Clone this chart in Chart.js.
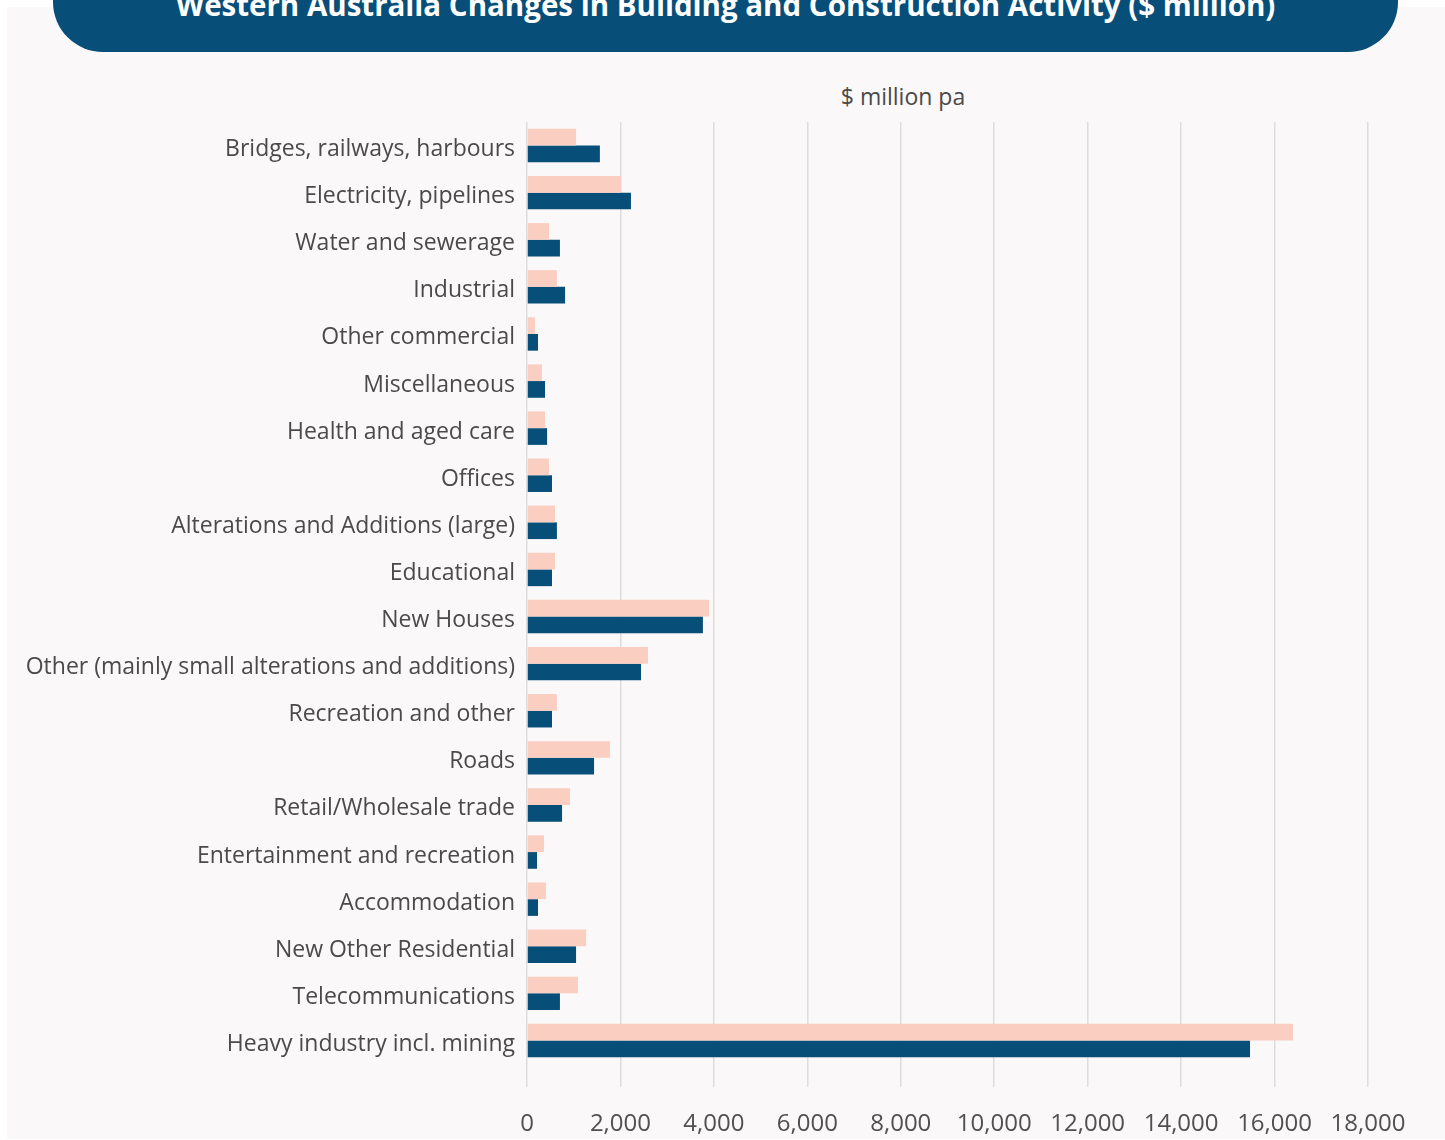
<!DOCTYPE html>
<html>
<head>
<meta charset="utf-8">
<script src="https://cdn.jsdelivr.net/npm/chart.js@4.4.1/dist/chart.umd.min.js"></script>
<style>
  html, body { margin: 0; padding: 0; background: #ffffff; }
  body { width: 1445px; height: 1140px; position: relative; overflow: hidden; font-family: "Open Sans", sans-serif; }
  #panel { position: absolute; left: 7px; top: 7px; width: 1438px; height: 1132px; background: #faf8f9; }
  #banner { position: absolute; left: 53px; top: -48px; width: 1345px; height: 100px; border-radius: 50px; background: #074e79; }
  #title { position: absolute; left: 53px; top: -10px; width: 1345px; text-align: center; color: #ffffff; font-weight: bold; font-size: 29.5px; line-height: 30px; white-space: nowrap; }
  #unit { position: absolute; left: 803px; top: 81px; width: 200px; text-align: center; color: #4a4a4a; font-size: 23px; line-height: 30px; }
  #wrap { position: absolute; left: 0; top: 0; width: 1445px; height: 1140px; }
</style>
</head>
<body>
<div id="panel"></div>
<div id="banner"></div>
<div id="title">Western Australia Changes in Building and Construction Activity ($ million)</div>
<div id="unit">$ million pa</div>
<div id="wrap"><canvas id="chart"></canvas></div>
<script>
// Категории и значения ($ million pa)
const categories = [
    'Bridges, railways, harbours',
    'Electricity, pipelines',
    'Water and sewerage',
    'Industrial',
    'Other commercial',
    'Miscellaneous',
    'Health and aged care',
    'Offices',
    'Alterations and Additions (large)',
    'Educational',
    'New Houses',
    'Other (mainly small alterations and additions)',
    'Recreation and other',
    'Roads',
    'Retail/Wholesale trade',
    'Entertainment and recreation',
    'Accommodation',
    'New Other Residential',
    'Telecommunications',
    'Heavy industry incl. mining'
];
const previousValues = [1050, 2010, 470, 640, 170, 320, 385, 470, 600, 600, 3895, 2590, 640, 1775, 920, 365, 405, 1265, 1090, 16395];
const currentValues = [1560, 2225, 705, 815, 235, 385, 430, 535, 640, 535, 3765, 2440, 535, 1435, 750, 215, 235, 1050, 705, 15475];
const xTicks = [0, 2000, 4000, 6000, 8000, 10000, 12000, 14000, 16000, 18000];

const font = '"Open Sans", sans-serif';

let ctx = document.getElementById('chart').getContext('2d');
let chart = new Chart(ctx, {
    type: 'bar',
    data: {
        labels: categories,
        datasets: [
            {
                label: 'Previous',
                data: previousValues,
                backgroundColor: '#fbcec2',
                borderWidth: 0
            },
            {
                label: 'Current',
                data: currentValues,
                backgroundColor: '#074e79',
                borderWidth: 0
            }
        ]
    },
    options: {
        indexAxis: 'y',
        responsive: true,
        maintainAspectRatio: false,
        animation: false,
        datasets: {
            bar: {
                categoryPercentage: 0.71,
                barPercentage: 1.0
            }
        },
        layout: {
            padding: { top: 122, right: 77, bottom: 0, left: 0 }
        },
        plugins: {
            legend: { display: false },
            tooltip: { enabled: false }
        },
        scales: {
            x: {
                min: 0,
                max: 18000,
                afterBuildTicks: (scale) => {
                    scale.ticks = xTicks.map(v => ({ value: v }));
                },
                afterFit: (scale) => {
                    scale.height = 76;
                },
                grid: {
                    color: '#dedcdd',
                    lineWidth: 1.5,
                    tickLength: 23,
                    tickColor: '#dedcdd'
                },
                border: { display: false },
                ticks: {
                    padding: 23,
                    color: '#505050',
                    font: { family: font, size: 24 },
                    maxRotation: 0,
                    autoSkip: false,
                    callback: (v) => v.toLocaleString('en-US')
                }
            },
            y: {
                afterFit: (scale) => {
                    scale.width = 527;
                },
                grid: { display: false, drawTicks: false },
                border: { display: false },
                ticks: {
                    padding: 12,
                    labelOffset: 4,
                    color: '#4a4a4a',
                    font: { family: font, size: 23 },
                    autoSkip: false
                }
            }
        }
    }
});
</script>
</body>
</html>
